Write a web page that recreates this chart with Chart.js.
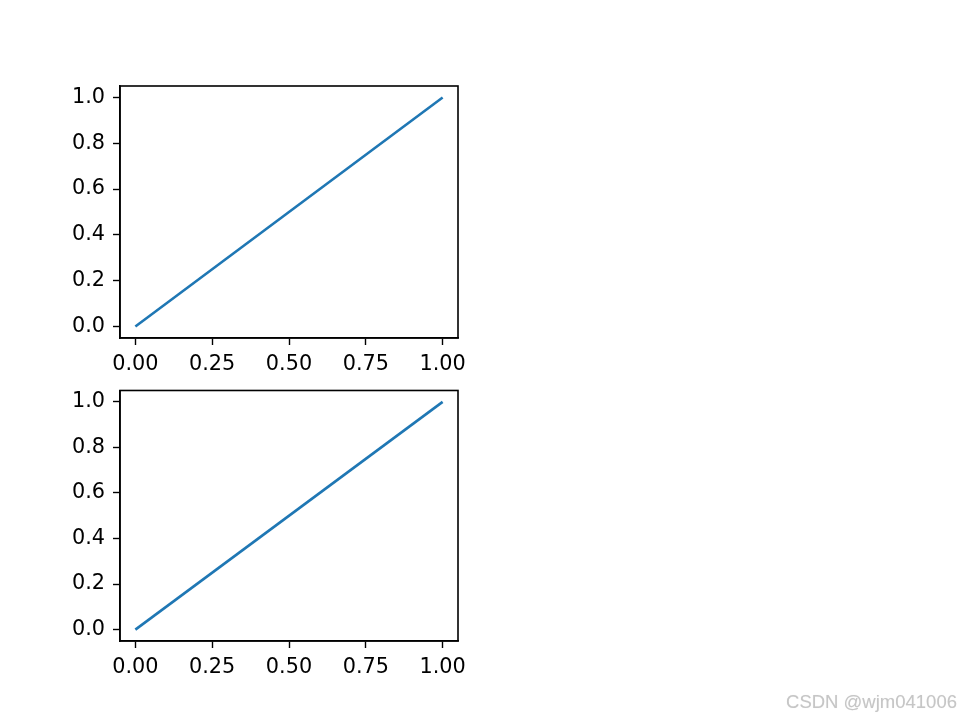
<!DOCTYPE html>
<html lang="en">
<head>
    <meta charset="UTF-8">
    <title>subplots</title>
    <style>
        html, body { margin: 0; padding: 0; background: #fff; }
        #wrap { position: relative; width: 960px; height: 720px; overflow: hidden; }
        .plot { position: absolute; left: 0; }
        #top { top: 0; }
        #bottom { top: 370px; }
        #mark {
            position: absolute; right: 3px; top: 691px;
            font-family: "Liberation Sans", Arial, sans-serif;
            font-size: 18.5px; color: #c6c6c6;
            text-shadow: 0 0 1px #e6e6e6;
        }
    </style>
</head>
<body>
<div id="wrap">
    <canvas id="top" class="plot" width="960" height="380"></canvas>
    <canvas id="bottom" class="plot" width="960" height="330"></canvas>
    <div id="mark">CSDN @wjm041006</div>
</div>

<script src="https://cdn.jsdelivr.net/npm/chart.js"></script>
<script>
const xValues = [0, 1];
const yValues = [0, 1];
const xTicks = [0, 0.25, 0.5, 0.75, 1.0];
const yTicks = [0, 0.2, 0.4, 0.6, 0.8, 1.0];

// full frame around the axes, like matplotlib spines
const boxPlugin = {
    id: 'box',
    afterDraw(chart) {
        const a = chart.chartArea;
        const ctx = chart.ctx;
        ctx.save();
        ctx.strokeStyle = '#000';
        ctx.lineWidth = 1.6;
        ctx.strokeRect(a.left, a.top, a.right - a.left, a.bottom - a.top);
        ctx.restore();
    }
};

function makePlot(id, padTop, xHeight) {
    const font = { family: 'DejaVu Sans', size: 20.8 };
    new Chart(document.getElementById(id), {
        type: 'line',
        data: {
            datasets: [{
                data: xValues.map((x, i) => ({ x: x, y: yValues[i] })),
                borderColor: '#1f77b4',
                borderWidth: 2.6,
                pointRadius: 0,
                fill: false
            }]
        },
        options: {
            responsive: false,
            animation: false,
            plugins: { legend: { display: false }, tooltip: { enabled: false } },
            layout: { padding: { top: padTop, left: 0, right: 502, bottom: 0 } },
            scales: {
                x: {
                    type: 'linear', min: -0.05, max: 1.05,
                    afterBuildTicks: s => { s.ticks = xTicks.map(v => ({ value: v })); },
                    afterFit: s => { s.height = xHeight; },
                    ticks: { color: '#000', font: font, padding: 7, maxRotation: 0,
                             callback: v => v.toFixed(2) },
                    grid: { drawOnChartArea: false, drawTicks: true, tickLength: 7,
                            tickColor: '#000', tickWidth: 1.4 },
                    border: { color: '#000', width: 1.6 }
                },
                y: {
                    type: 'linear', min: -0.05, max: 1.05,
                    afterBuildTicks: s => { s.ticks = yTicks.map(v => ({ value: v })); },
                    afterFit: s => { s.width = 120; },
                    ticks: { color: '#000', font: font, padding: 8,
                             callback: v => v.toFixed(1) },
                    grid: { drawOnChartArea: false, drawTicks: true, tickLength: 7,
                            tickColor: '#000', tickWidth: 1.4 },
                    border: { color: '#000', width: 1.6 }
                }
            }
        },
        plugins: [boxPlugin]
    });
}

makePlot('top', 86, 380 - 338);
makePlot('bottom', 18.5, 330 - 271);
</script>
</body>
</html>
